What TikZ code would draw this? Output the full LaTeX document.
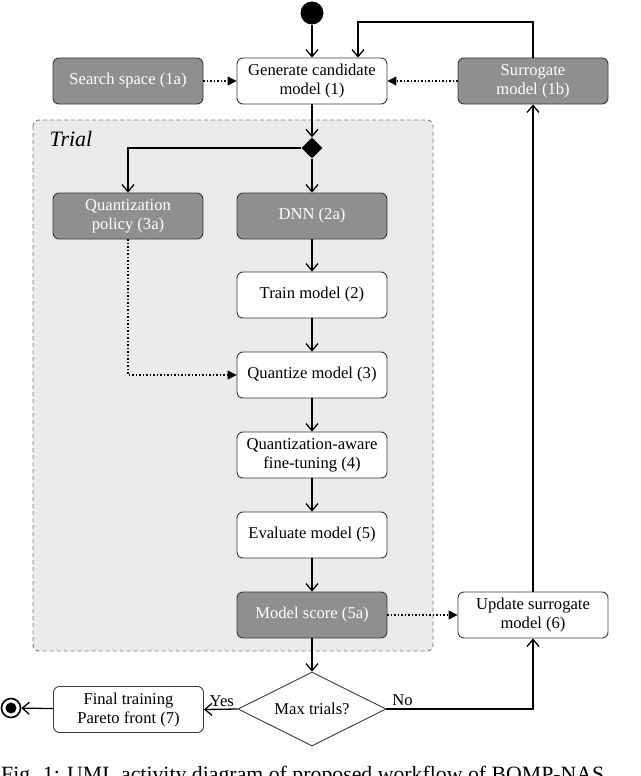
\documentclass[tikz,border=0pt]{standalone}
\usepackage{fontspec}
\setmainfont{Liberation Serif}
\usetikzlibrary{shapes.geometric,arrows.meta,calc}
\definecolor{boxgray}{HTML}{8F8F8F}
\definecolor{trialgray}{HTML}{EBEBEB}
\definecolor{edgegray}{HTML}{3A3A3A}
\definecolor{dashgray}{HTML}{7A7A7A}
\begin{document}
\begin{tikzpicture}[x=1pt,y=-1pt,
  every node/.style={font=\fontsize{16.6}{19}\selectfont},
  act/.style={draw=edgegray, line width=0.9pt, rounded corners=6pt, minimum width=150pt, minimum height=46pt, align=center, inner sep=2pt, fill=white},
  gact/.style={act, fill=boxgray, text=white},
  flow/.style={line width=1.3pt, -{Straight Barb[length=7pt,width=12pt,line width=1.3pt]}},
  dep/.style={line width=1.2pt, dash pattern=on 1.3pt off 2.2pt, -{Triangle[length=9pt,width=9pt]}},
  trialbox/.style={fill=trialgray, draw=dashgray, line width=0.9pt, dash pattern=on 4pt off 3pt, rounded corners=6pt},
]
\path[clip] (0,0) rectangle (640,776);
\useasboundingbox (0,0) rectangle (640,776);
\fill[white] (0,0) rectangle (640,776);

% Trial container
\draw[trialbox] (33,120) rectangle (433,651);
\node[anchor=base west, font=\fontsize{22}{24}\selectfont\itshape] (triallbl) at (46,146) {Trial};

% start / end
\node[circle, fill=black, minimum size=23pt, inner sep=0pt] (start) at (312,13) {};
\node[circle, draw=black, line width=1.6pt, minimum size=19pt, inner sep=0pt] (endc) at (11,708) {};
\node[circle, fill=black, minimum size=11pt, inner sep=0pt] (endin) at (endc.center) {};

% activities
\node[gact] (ss) at (128,81) {Search space (1a)};
\node[act] (gen) at (312,81) {Generate candidate\\model (1)};
\node[gact] (sur) at (533,81) {Surrogate\\model (1b)};
\node[diamond, fill=black, minimum size=21pt, inner sep=0pt] (br) at (312,148) {};
\node[gact] (qp) at (128,216) {Quantization\\policy (3a)};
\node[gact] (dnn) at (312,216) {DNN (2a)};
\node[act] (train) at (312,295) {Train model (2)};
\node[act] (quant) at (312,375) {Quantize model (3)};
\node[act] (qa) at (312,455) {Quantization-aware\\fine-tuning (4)};
\node[act] (eval) at (312,535) {Evaluate model (5)};
\node[gact] (score) at (312,615) {Model score (5a)};
\node[act] (upd) at (533,615) {Update surrogate\\model (6)};
\node[diamond, aspect=2, draw=edgegray, line width=0.9pt, fill=white, minimum width=148pt, minimum height=74pt, inner sep=0pt] (maxd) at (312,709) {Max trials?};
\node[act] (fin) at (128.5,709.5) {Final training\\Pareto front (7)};

% connectors
\coordinate (loopc) at (358,22);
\draw[flow] (start) -- (gen);
\draw[flow] (sur.north) |- (loopc) -- (loopc |- gen.north);
\draw[dep] (ss) -- (gen);
\draw[dep] (sur) -- (gen);
\draw[flow] (gen) -- (br);
\draw[flow] (br.west) -| (qp.north);
\draw[flow] (br) -- (dnn);
\draw[flow] (dnn) -- (train);
\draw[flow] (train) -- (quant);
\draw[flow] (quant) -- (qa);
\draw[flow] (qa) -- (eval);
\draw[flow] (eval) -- (score);
\draw[dep] (qp.south) |- (quant.west);
\draw[dep] (score) -- (upd);
\draw[flow] (upd) -- (sur);
\draw[flow] (score) -- (maxd);
\draw[flow] (maxd.west) -- node[pos=0.47, above=-1pt] (yes) {Yes} (fin.east);
\draw[flow] (maxd.east) -| node[pos=0.055, above=-1pt] (no) {No} (upd.south);
\draw[flow] (fin) -- (endc);

% caption (cut off at the bottom, as in the reference)
\node[anchor=base west, inner sep=0pt, font=\fontsize{21.8}{24}\selectfont] (cap) at (1,781) {Fig. 1: UML activity diagram of proposed workflow of BOMP-NAS.};
\end{tikzpicture}
\end{document}
